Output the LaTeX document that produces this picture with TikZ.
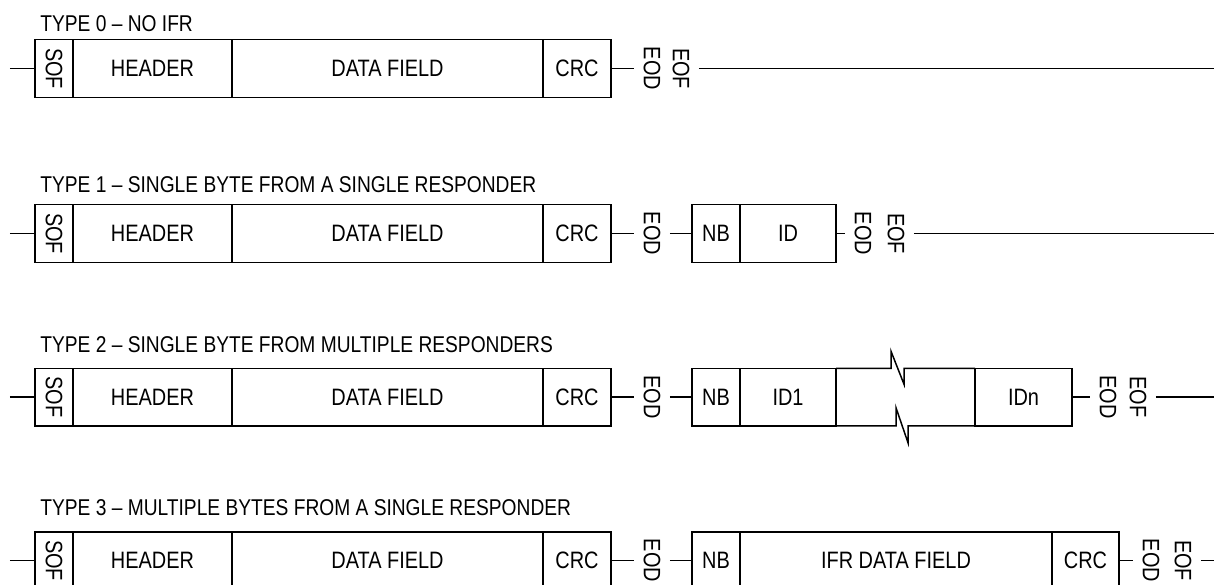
\documentclass[tikz,border=0pt]{standalone}
\usepackage{fontspec}
\setmainfont{Liberation Sans}[FakeStretch=0.84]
\usepackage{graphicx}
\usepackage{tikz}
\usetikzlibrary{positioning}

\tikzset{
  field/.style={draw, line width=0.85pt, minimum height=1.15cm, inner sep=0pt, outer sep=0pt, anchor=west, font=\fontsize{13.5}{15}\selectfont},
  tag/.style={rotate=-90, inner sep=0.18cm, font=\fontsize{13.5}{15}\selectfont},
  title/.style={anchor=base west, inner sep=0pt, font=\fontsize{13}{15}\selectfont},
  wire/.style={line width=0.85pt}
}

\begin{document}
\begin{tikzpicture}
  \useasboundingbox (0,0) rectangle (24.28,11.68);
  \clip (0,0) rectangle (24.28,11.68);

  % Type 0
  \node[title] (t0) at (0.80,11.04) {TYPE 0 -- NO IFR};
  \node[field, minimum width=0.76cm] (sof0) at (0.70,10.31) {\rotatebox{-90}{SOF}};
  \node[field, minimum width=3.18cm] (head0) at (1.46,10.31) {HEADER};
  \node[field, minimum width=6.22cm] (data0) at (4.64,10.31) {DATA FIELD};
  \node[field, minimum width=1.36cm] (crc0) at (10.86,10.31) {CRC};
  \node[tag] (eod0) at (13.04,10.31) {EOD};
  \node[tag] (eof0) at (13.62,10.31) {EOF};
  \coordinate (in0) at (0.20,10.31);
  \coordinate (out0) at (24.28,10.31);
  \draw[wire] (in0) -- (sof0.west);
  \draw[wire] (crc0.east) -- (eod0.south);
  \draw[wire] (eof0.north) -- (out0);

  % Type 1
  \node[title] (t1) at (0.80,7.84) {TYPE 1 -- SINGLE BYTE FROM A SINGLE RESPONDER};
  \node[field, minimum width=0.76cm] (sof1) at (0.70,7.01) {\rotatebox{-90}{SOF}};
  \node[field, minimum width=3.18cm] (head1) at (1.46,7.01) {HEADER};
  \node[field, minimum width=6.22cm] (data1) at (4.64,7.01) {DATA FIELD};
  \node[field, minimum width=1.36cm] (crc1) at (10.86,7.01) {CRC};
  \node[tag] (eod1a) at (13.04,7.01) {EOD};
  \node[field, minimum width=0.96cm] (nb1) at (13.84,7.01) {NB};
  \node[field, minimum width=1.92cm] (id1) at (14.80,7.01) {ID};
  \node[tag] (eod1b) at (17.26,7.01) {EOD};
  \node[tag] (eof1) at (17.92,7.01) {EOF};
  \coordinate (in1) at (0.20,7.01);
  \coordinate (out1) at (24.28,7.01);
  \draw[wire] (in1) -- (sof1.west);
  \draw[wire] (crc1.east) -- (eod1a.south);
  \draw[wire] (eod1a.north) -- (nb1.west);
  \draw[wire] (id1.east) -- (eod1b.south);
  \draw[wire] (eof1.north) -- (out1);

  % Type 2
  \node[title] (t2) at (0.80,4.64) {TYPE 2 -- SINGLE BYTE FROM MULTIPLE RESPONDERS};
  \node[field, minimum width=0.76cm] (sof2) at (0.70,3.74) {\rotatebox{-90}{SOF}};
  \node[field, minimum width=3.18cm] (head2) at (1.46,3.74) {HEADER};
  \node[field, minimum width=6.22cm] (data2) at (4.64,3.74) {DATA FIELD};
  \node[field, minimum width=1.36cm] (crc2) at (10.86,3.74) {CRC};
  \node[tag] (eod2a) at (13.04,3.74) {EOD};
  \node[field, minimum width=0.96cm] (nb2) at (13.84,3.74) {NB};
  \node[field, minimum width=1.92cm] (id12) at (14.80,3.74) {ID1};
  \node[field, minimum width=1.94cm] (idn2) at (19.50,3.74) {IDn};
  \node[tag] (eod2b) at (22.16,3.74) {EOD};
  \node[tag] (eof2) at (22.76,3.74) {EOF};
  \coordinate (in2) at (0.20,3.74);
  \coordinate (out2) at (24.28,3.74);
  \draw[wire] (in2) -- (sof2.west);
  \draw[wire] (crc2.east) -- (eod2a.south);
  \draw[wire] (eod2a.north) -- (nb2.west);
  \draw[wire] (id12.north east) -- ++(1.10,0) -- ++(0,0.34) -- ++(0.26,-0.66) -- ++(0,0.32) -- (idn2.north west);
  \draw[wire] (id12.south east) -- ++(1.20,0) -- ++(0,0.36) -- ++(0.24,-0.70) -- ++(0,0.34) -- (idn2.south west);
  \draw[wire] (idn2.east) -- (eod2b.south);
  \draw[wire] (eof2.north) -- (out2);

  % Type 3
  \node[title] (t3) at (0.80,1.38) {TYPE 3 -- MULTIPLE BYTES FROM A SINGLE RESPONDER};
  \node[field, minimum width=0.76cm] (sof3) at (0.70,0.47) {\rotatebox{-90}{SOF}};
  \node[field, minimum width=3.18cm] (head3) at (1.46,0.47) {HEADER};
  \node[field, minimum width=6.22cm] (data3) at (4.64,0.47) {DATA FIELD};
  \node[field, minimum width=1.36cm] (crc3a) at (10.86,0.47) {CRC};
  \node[tag] (eod3a) at (13.04,0.47) {EOD};
  \node[field, minimum width=0.96cm] (nb3) at (13.84,0.47) {NB};
  \node[field, minimum width=6.24cm] (ifr3) at (14.80,0.47) {IFR DATA FIELD};
  \node[field, minimum width=1.34cm] (crc3b) at (21.04,0.47) {CRC};
  \node[tag] (eod3b) at (23.02,0.47) {EOD};
  \node[tag] (eof3) at (23.66,0.47) {EOF};
  \coordinate (in3) at (0.20,0.47);
  \coordinate (out3) at (24.28,0.47);
  \draw[wire] (in3) -- (sof3.west);
  \draw[wire] (crc3a.east) -- (eod3a.south);
  \draw[wire] (eod3a.north) -- (nb3.west);
  \draw[wire] (crc3b.east) -- (eod3b.south);
  \draw[wire] (eof3.north) -- (out3);
\end{tikzpicture}
\end{document}
